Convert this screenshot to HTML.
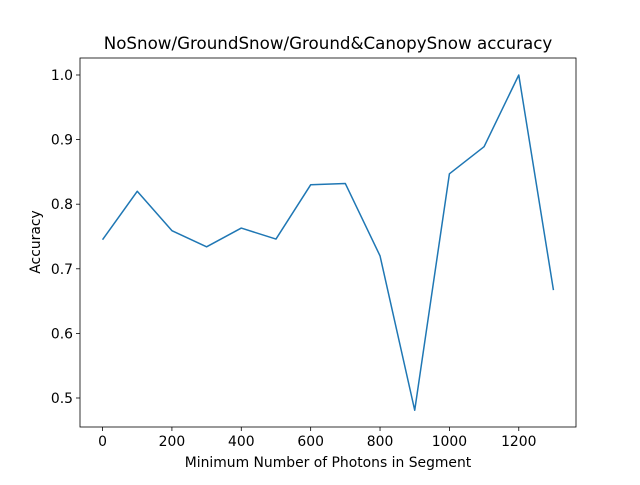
<!DOCTYPE html>
<html><head><meta charset="utf-8"><style>
body{margin:0;background:#fff}
text{font-family:"DejaVu Sans","Liberation Sans",sans-serif;fill:#000}
</style></head><body>
<svg id="chart" width="640" height="480">
<rect width="640" height="480" fill="#fff"/>
<text x="328" y="49" text-anchor="middle" font-size="16.7">NoSnow/GroundSnow/Ground&amp;CanopySnow accuracy</text>
<g id="axes"></g>
<text x="328" y="467" text-anchor="middle" font-size="13.9">Minimum Number of Photons in Segment</text>
<text transform="translate(40,242) rotate(-90)" text-anchor="middle" font-size="13.9">Accuracy</text>
</svg>
<script>
const xValues=[0,100,200,300,400,500,600,700,800,900,1000,1100,1200,1300];
const accuracy=[0.745,0.820,0.759,0.734,0.763,0.746,0.830,0.832,0.720,0.481,0.847,0.889,1.0,0.667];
const xTicks=[0,200,400,600,800,1000,1200];
const yTicks=[0.5,0.6,0.7,0.8,0.9,1.0];
const L=80,R=576,T=58,B=427;
const xMin=-65,xMax=1365,yMin=0.4551,yMax=1.0263;
const sx=v=>L+(v-xMin)/(xMax-xMin)*(R-L);
const sy=v=>B-(v-yMin)/(yMax-yMin)*(B-T);
const g=document.getElementById('axes');
const NS='http://www.w3.org/2000/svg';
function mk(t,a){const e=document.createElementNS(NS,t);for(const k in a)e.setAttribute(k,a[k]);g.appendChild(e);return e;}
xTicks.forEach(v=>{
 const l=mk('line',{x1:sx(v),x2:sx(v),y1:B,y2:B+4,stroke:'#000','stroke-width':0.8});
 
 
 const t=mk('text',{x:sx(v),y:B+19,'text-anchor':'middle','font-size':13.9});
 t.textContent=v;
 
 
});
yTicks.forEach(v=>{
 const l=mk('line',{x1:L-4,x2:L,y1:sy(v),y2:sy(v),stroke:'#000','stroke-width':0.8});
 
 
 const t=mk('text',{x:L-7,y:sy(v)+5,'text-anchor':'end','font-size':13.9});
 t.textContent=v.toFixed(1);
 
 
});
const p=mk('polyline',{points:xValues.map((x,i)=>sx(x)+','+sy(accuracy[i])).join(' '),fill:'none',stroke:'#1f77b4','stroke-width':1.5,'stroke-linejoin':'round'});


const f=mk('rect',{x:L,y:T,width:R-L,height:B-T,fill:'none',stroke:'#000','stroke-width':0.8});


</script>
</body></html>
